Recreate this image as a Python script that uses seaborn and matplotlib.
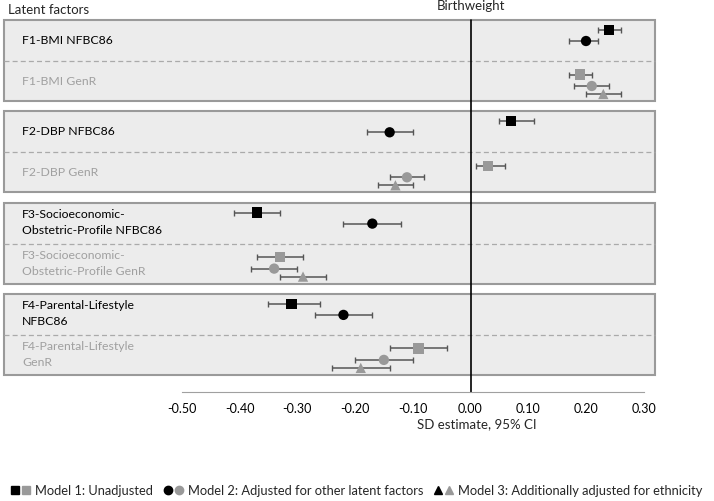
import pandas as pd
import matplotlib
matplotlib.use("Agg")
import matplotlib.pyplot as plt
import seaborn as sns
from matplotlib.patches import Rectangle
from matplotlib.lines import Line2D
from matplotlib.legend_handler import HandlerTuple

# Data (SD estimate and 95% CI)
nfbc_labels = ["F1-BMI NFBC86", "F2-DBP NFBC86",
               "F3-Socioeconomic-\nObstetric-Profile NFBC86",
               "F4-Parental-Lifestyle\nNFBC86"]
genr_labels = ["F1-BMI GenR", "F2-DBP GenR",
               "F3-Socioeconomic-\nObstetric-Profile GenR",
               "F4-Parental-Lifestyle\nGenR"]

# NFBC86: Model 1, Model 2
nfbc_est = [[0.24, 0.20], [0.07, -0.14], [-0.37, -0.17], [-0.31, -0.22]]
nfbc_lo = [[0.22, 0.17], [0.05, -0.18], [-0.41, -0.22], [-0.35, -0.27]]
nfbc_hi = [[0.26, 0.22], [0.11, -0.10], [-0.33, -0.12], [-0.26, -0.17]]

# GenR: Model 1, Model 2, Model 3
genr_est = [[0.19, 0.21, 0.23], [0.03, -0.11, -0.13], [-0.33, -0.34, -0.29], [-0.09, -0.15, -0.19]]
genr_lo = [[0.17, 0.18, 0.20], [0.01, -0.14, -0.16], [-0.37, -0.38, -0.33], [-0.14, -0.20, -0.24]]
genr_hi = [[0.21, 0.24, 0.26], [0.06, -0.08, -0.10], [-0.29, -0.30, -0.25], [-0.04, -0.10, -0.14]]

models = ["Model 1", "Model 2", "Model 3"]
legend_labels = ["Model 1: Unadjusted",
                 "Model 2: Adjusted for other latent factors",
                 "Model 3: Additionally adjusted for ethnicity"]
tick_vals = [-0.50, -0.40, -0.30, -0.20, -0.10, 0.00, 0.10, 0.20, 0.30]

# layout (pixel-like rows, y grows downwards)
W, H = 714, 501
ZERO_PX, UNIT_PX = 470.5, 577.5
TOP0, STEP, BOX_H, SPLIT = 20, 91.3, 81, 41
AXIS_Y = 392
offsets = {"NFBC86": [10, 21], "GenR": [54.5, 66, 74]}
BLACK, GRAY, BAR = "black", "#999999", "#555555"

rows = []
for g in range(4):
    top = TOP0 + g * STEP
    for m in range(2):
        rows.append(dict(cohort="NFBC86", model=models[m], est=nfbc_est[g][m],
                         lo=nfbc_lo[g][m], hi=nfbc_hi[g][m], y=top + offsets["NFBC86"][m]))
    for m in range(3):
        rows.append(dict(cohort="GenR", model=models[m], est=genr_est[g][m],
                         lo=genr_lo[g][m], hi=genr_hi[g][m], y=top + offsets["GenR"][m]))
df = pd.DataFrame(rows)

sns.set_style("white")
plt.rcParams["font.family"] = ["Lato", "DejaVu Sans"]
plt.rcParams["axes.unicode_minus"] = False

fig = plt.figure(figsize=(W / 100, H / 100), dpi=100)
ax = fig.add_axes([0, 0, 1, 1])
ax.patch.set_alpha(0)
ax.set_xlim(-ZERO_PX / UNIT_PX, (W - ZERO_PX) / UNIT_PX)
ax.set_ylim(H, 0)

# group boxes
yt = ax.get_yaxis_transform()
for g in range(4):
    top = TOP0 + g * STEP
    ax.add_patch(Rectangle((4 / W, top), (655 - 4) / W, BOX_H, transform=yt,
                           facecolor="#ececec", edgecolor="#9a9a9a", lw=1.5, zorder=0))
    ax.plot([4 / W, 655 / W], [top + SPLIT, top + SPLIT], transform=yt,
            color="#aaaaaa", lw=0.9, ls=(0, (4, 2.5)), zorder=1)
    ax.text(22 / W, top + 20, nfbc_labels[g], transform=yt, va="center", ha="left",
            fontsize=8.8, color="black", linespacing=1.55)
    ax.text(22 / W, top + 61, genr_labels[g], transform=yt, va="center", ha="left",
            fontsize=8.8, color="#a0a0a0", linespacing=1.55)

# zero line
ax.plot([0, 0], [TOP0, AXIS_Y], color="black", lw=1.2, zorder=2)

# confidence intervals
ax.errorbar(df["est"], df["y"], xerr=[df["est"] - df["lo"], df["hi"] - df["est"]],
            fmt="none", ecolor=BAR, elinewidth=1.1, capsize=2.2, capthick=1.0, zorder=3)

sns.scatterplot(data=df, x="est", y="y", hue="cohort", style="model",
                palette={"NFBC86": BLACK, "GenR": GRAY},
                markers={"Model 1": "s", "Model 2": "o", "Model 3": "^"},
                s=55, linewidth=0, legend=False, ax=ax, zorder=4)

# axis
for side in ["top", "left", "right"]:
    ax.spines[side].set_visible(False)
ax.spines["bottom"].set_position(("data", AXIS_Y))
ax.spines["bottom"].set_bounds(tick_vals[0], tick_vals[-1])
ax.spines["bottom"].set_color("#a0a0a0")
ax.set_xticks(tick_vals, [f"{v:.2f}" for v in tick_vals])
ax.set_yticks([])
ax.set_ylabel("")
ax.tick_params(axis="x", direction="inout", length=6, color="#a0a0a0",
               labelsize=9, pad=5, labelcolor="black")
ax.set_xlabel("SD estimate, 95% CI", fontsize=9.5)
ax.xaxis.set_label_coords(477 / W, 1 - 424 / H)
ax.xaxis.label.set_va("center")

fig.text(8 / W, 1 - 10 / H, "Latent factors", fontsize=9.5, va="center", ha="left")
ax.text(0, 6, "Birthweight", fontsize=9.5, va="center", ha="center")

# legend with paired black/gray markers
handles = []
for mk in ["s", "o", "^"]:
    handles.append((Line2D([], [], ls="none", marker=mk, color=BLACK, markersize=6),
                    Line2D([], [], ls="none", marker=mk, color=GRAY, markersize=6)))
fig.legend(handles, legend_labels, handler_map={tuple: HandlerTuple(ndivide=None, pad=0.3)},
           loc="center", bbox_to_anchor=(0.5, 1 - 491 / H), ncol=3, frameon=False,
           fontsize=9.3, handlelength=1.4, handletextpad=0.4, columnspacing=0.9,
           borderaxespad=0, borderpad=0)

fig.savefig("out.png", dpi=100, facecolor="white")
